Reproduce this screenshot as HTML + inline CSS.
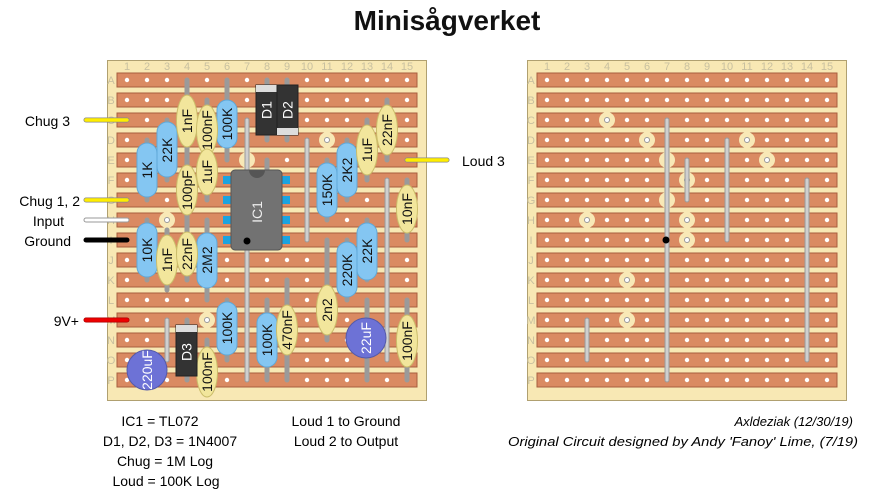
<!DOCTYPE html>
<html><head><meta charset="utf-8"><style>
html,body{margin:0;padding:0;background:#fff;}
svg{display:block;font-family:"Liberation Sans",sans-serif;}
.num{font-size:11px;fill:#c8c0a0;text-anchor:middle;}
.lab{font-size:14px;fill:#000;}
.cl{font-size:14px;fill:#111;text-anchor:middle;dominant-baseline:central;}
.lead{stroke:#9a9a9a;stroke-width:5;stroke-linecap:round;}
.leadi{stroke:#cfcfcf;stroke-width:3;stroke-linecap:round;}
.res{fill:#84c6f2;stroke:#5fa8d8;stroke-width:1;}
.cap{fill:#f2e69c;stroke:#cbbd6a;stroke-width:1;}
.cut{fill:#f8e8b6;}
.strip{fill:#da8a62;stroke:#a85e3e;stroke-width:1;}
</style></head><body>
<svg width="878" height="499" viewBox="0 0 878 499" xmlns="http://www.w3.org/2000/svg">
<defs>
<pattern id="holes" x="117" y="70" width="20" height="20" patternUnits="userSpaceOnUse">
<circle cx="10" cy="10" r="2.2" fill="#fff"/>
</pattern>
</defs>
<text x="447" y="30" font-size="28" text-anchor="middle" font-weight="bold" fill="#111">Minisågverket</text>

<!-- LEFT BOARD -->
<rect x="107.5" y="60.5" width="319" height="340" fill="#f8e8b4" stroke="#b0a070"/>
<g>
<rect class="strip" x="117" y="73" width="300" height="14"/><rect class="strip" x="117" y="93" width="300" height="14"/>
<rect class="strip" x="117" y="113" width="300" height="14"/><rect class="strip" x="117" y="133" width="300" height="14"/>
<rect class="strip" x="117" y="153" width="300" height="14"/><rect class="strip" x="117" y="173" width="300" height="14"/>
<rect class="strip" x="117" y="193" width="300" height="14"/><rect class="strip" x="117" y="213" width="300" height="14"/>
<rect class="strip" x="117" y="233" width="300" height="14"/><rect class="strip" x="117" y="253" width="300" height="14"/>
<rect class="strip" x="117" y="273" width="300" height="14"/><rect class="strip" x="117" y="293" width="300" height="14"/>
<rect class="strip" x="117" y="313" width="300" height="14"/><rect class="strip" x="117" y="333" width="300" height="14"/>
<rect class="strip" x="117" y="353" width="300" height="14"/><rect class="strip" x="117" y="373" width="300" height="14"/>
</g>
<rect x="117" y="70" width="300" height="320" fill="url(#holes)"/>
<g class="num">
<text x="127" y="70">1</text><text x="147" y="70">2</text><text x="167" y="70">3</text><text x="187" y="70">4</text><text x="207" y="70">5</text><text x="227" y="70">6</text><text x="247" y="70">7</text><text x="267" y="70">8</text><text x="287" y="70">9</text><text x="307" y="70">10</text><text x="327" y="70">11</text><text x="347" y="70">12</text><text x="367" y="70">13</text><text x="387" y="70">14</text><text x="407" y="70">15</text>
<text x="111" y="84">A</text><text x="111" y="104">B</text><text x="111" y="124">C</text><text x="111" y="144">D</text><text x="111" y="164">E</text><text x="111" y="184">F</text><text x="111" y="204">G</text><text x="111" y="224">H</text><text x="111" y="244">I</text><text x="111" y="264">J</text><text x="111" y="284">K</text><text x="111" y="304">L</text><text x="111" y="324">M</text><text x="111" y="344">N</text><text x="111" y="364">O</text><text x="111" y="384">P</text>
</g>
<!-- cuts left -->
<g>
<circle class="cut" cx="187" cy="120" r="8"/><circle class="cut" cx="227" cy="140" r="8"/><circle class="cut" cx="327" cy="140" r="8"/>
<circle class="cut" cx="247" cy="160" r="8"/><circle class="cut" cx="347" cy="160" r="8"/><circle class="cut" cx="267" cy="180" r="8"/>
<circle class="cut" cx="247" cy="200" r="8"/><circle class="cut" cx="167" cy="220" r="8"/><circle class="cut" cx="267" cy="220" r="8"/>
<circle class="cut" cx="267" cy="240" r="8"/><circle class="cut" cx="207" cy="280" r="8"/><circle class="cut" cx="207" cy="320" r="8"/>
</g>
<g fill="#fff" stroke="#999" stroke-width="1">
<circle cx="327" cy="140" r="2.5"/><circle cx="167" cy="220" r="2.5"/><circle cx="207" cy="320" r="2.5"/>
</g>
<!-- links & leads left -->
<g>
<line class="lead" x1="247" y1="120" x2="247" y2="380"/><line class="leadi" x1="247" y1="120" x2="247" y2="380"/>
<line class="lead" x1="307" y1="140" x2="307" y2="240"/><line class="leadi" x1="307" y1="140" x2="307" y2="240"/>
<line class="lead" x1="387" y1="180" x2="387" y2="360"/><line class="leadi" x1="387" y1="180" x2="387" y2="360"/>
<line class="lead" x1="167" y1="320" x2="167" y2="360"/><line class="leadi" x1="167" y1="320" x2="167" y2="360"/>
<line class="lead" x1="187" y1="80" x2="187" y2="160"/>
<line class="lead" x1="207" y1="100" x2="207" y2="200"/>
<line class="lead" x1="227" y1="80" x2="227" y2="160"/>
<line class="lead" x1="167" y1="120" x2="167" y2="180"/>
<line class="lead" x1="147" y1="140" x2="147" y2="200"/>
<line class="lead" x1="187" y1="160" x2="187" y2="220"/>
<line class="lead" x1="267" y1="80" x2="267" y2="140"/>
<line class="lead" x1="287" y1="80" x2="287" y2="140"/>
<line class="lead" x1="267" y1="160" x2="267" y2="180"/>
<line class="lead" x1="327" y1="160" x2="327" y2="220"/>
<line class="lead" x1="347" y1="140" x2="347" y2="200"/>
<line class="lead" x1="367" y1="120" x2="367" y2="180"/>
<line class="lead" x1="387" y1="100" x2="387" y2="160"/>
<line class="lead" x1="407" y1="180" x2="407" y2="240"/>
<line class="lead" x1="147" y1="220" x2="147" y2="280"/>
<line class="lead" x1="167" y1="230" x2="167" y2="290"/>
<line class="lead" x1="187" y1="220" x2="187" y2="280"/>
<line class="lead" x1="207" y1="220" x2="207" y2="300"/>
<line class="lead" x1="227" y1="300" x2="227" y2="360"/>
<line class="lead" x1="267" y1="300" x2="267" y2="380"/>
<line class="lead" x1="287" y1="280" x2="287" y2="380"/>
<line class="lead" x1="327" y1="240" x2="327" y2="340"/>
<line class="lead" x1="347" y1="240" x2="347" y2="300"/>
<line class="lead" x1="367" y1="220" x2="367" y2="280"/>
<line class="lead" x1="367" y1="300" x2="367" y2="380"/>
<line class="lead" x1="407" y1="300" x2="407" y2="380"/>
<line class="lead" x1="187" y1="320" x2="187" y2="380"/>
<line class="lead" x1="207" y1="340" x2="207" y2="380"/>
</g>
<!-- diodes D1 D2 -->
<rect x="256" y="85" width="21" height="50" fill="#333" stroke="#222"/>
<rect x="256" y="85" width="21" height="7" fill="#ddd"/>
<rect x="277" y="85" width="21" height="50" fill="#333" stroke="#222"/>
<rect x="277" y="128" width="21" height="7" fill="#ddd"/>
<text class="cl" transform="translate(266.5,110) rotate(-90)" fill="#fff" style="fill:#fff">D1</text>
<text class="cl" transform="translate(287.5,110) rotate(-90)" style="fill:#fff">D2</text>
<!-- IC -->
<g fill="#1aa3e0">
<rect x="223" y="176" width="8" height="8"/><rect x="223" y="196" width="8" height="8"/><rect x="223" y="216" width="8" height="8"/><rect x="223" y="236" width="8" height="8"/>
<rect x="282" y="176" width="8" height="8"/><rect x="282" y="196" width="8" height="8"/><rect x="282" y="216" width="8" height="8"/><rect x="282" y="236" width="8" height="8"/>
</g>
<rect x="231" y="170" width="51" height="80" rx="4" fill="#727272" stroke="#555"/>
<path d="M249 170 A8 8 0 0 0 265 170 Z" fill="#555"/>
<circle cx="247" cy="241" r="3.5" fill="#000"/>
<text class="cl" transform="translate(257,212) rotate(-90)" style="fill:#eee">IC1</text>
<!-- resistors -->
<g>
<rect class="res" x="217" y="100" width="20" height="48" rx="10"/>
<rect class="res" x="157" y="122" width="20" height="55" rx="10"/>
<rect class="res" x="137" y="143" width="20" height="54" rx="10"/>
<rect class="res" x="317" y="163" width="20" height="54" rx="10"/>
<rect class="res" x="337" y="143" width="20" height="54" rx="10"/>
<rect class="res" x="137" y="223" width="20" height="54" rx="10"/>
<rect class="res" x="197" y="233" width="20" height="55" rx="10"/>
<rect class="res" x="217" y="302" width="20" height="53" rx="10"/>
<rect class="res" x="257" y="313" width="20" height="54" rx="10"/>
<rect class="res" x="337" y="242" width="20" height="55" rx="10"/>
<rect class="res" x="357" y="223" width="20" height="57" rx="10"/>
</g>
<!-- caps -->
<g>
<ellipse class="cap" cx="187" cy="121" rx="10.5" ry="26"/>
<ellipse class="cap" cx="207" cy="130" rx="10.5" ry="25"/>
<ellipse class="cap" cx="207" cy="172" rx="10.5" ry="23"/>
<ellipse class="cap" cx="187" cy="190" rx="10.5" ry="25"/>
<ellipse class="cap" cx="367" cy="150" rx="10.5" ry="25"/>
<ellipse class="cap" cx="387" cy="130" rx="10.5" ry="25"/>
<ellipse class="cap" cx="407" cy="209" rx="10.5" ry="24"/>
<ellipse class="cap" cx="167" cy="260" rx="10.5" ry="25"/>
<ellipse class="cap" cx="187" cy="254" rx="10.5" ry="22"/>
<ellipse class="cap" cx="287" cy="330" rx="10.5" ry="25"/>
<ellipse class="cap" cx="327" cy="310" rx="10.5" ry="25"/>
<ellipse class="cap" cx="407" cy="341" rx="10.5" ry="26"/>
<ellipse class="cap" cx="207" cy="372" rx="10.5" ry="25"/>
</g>
<!-- D3 -->
<rect x="176" y="325" width="21" height="51" fill="#333" stroke="#222"/>
<rect x="176" y="325" width="21" height="7" fill="#ddd"/>
<text class="cl" transform="translate(186.5,352) rotate(-90)" style="fill:#fff">D3</text>
<!-- electrolytics -->
<circle cx="366" cy="338" r="20" fill="#6d72d6" stroke="#555aa8"/>
<circle cx="147" cy="370" r="20" fill="#6d72d6" stroke="#555aa8"/>
<!-- labels -->
<g class="cl">
<text transform="translate(187,121) rotate(-90)">1nF</text>
<text transform="translate(207,130) rotate(-90)">100nF</text>
<text transform="translate(207,172) rotate(-90)">1uF</text>
<text transform="translate(227,124) rotate(-90)">100K</text>
<text transform="translate(167,150) rotate(-90)">22K</text>
<text transform="translate(147,170) rotate(-90)">1K</text>
<text transform="translate(187,190) rotate(-90)">100pF</text>
<text transform="translate(327,190) rotate(-90)">150K</text>
<text transform="translate(347,170) rotate(-90)">2K2</text>
<text transform="translate(367,150) rotate(-90)">1uF</text>
<text transform="translate(387,130) rotate(-90)">22nF</text>
<text transform="translate(407,209) rotate(-90)">10nF</text>
<text transform="translate(147,250) rotate(-90)">10K</text>
<text transform="translate(167,260) rotate(-90)">1nF</text>
<text transform="translate(187,254) rotate(-90)">22nF</text>
<text transform="translate(207,260) rotate(-90)">2M2</text>
<text transform="translate(227,328) rotate(-90)">100K</text>
<text transform="translate(267,340) rotate(-90)">100K</text>
<text transform="translate(287,330) rotate(-90)">470nF</text>
<text transform="translate(327,310) rotate(-90)">2n2</text>
<text transform="translate(347,270) rotate(-90)">220K</text>
<text transform="translate(367,251) rotate(-90)">22K</text>
<text transform="translate(407,341) rotate(-90)">100nF</text>
<text transform="translate(207,372) rotate(-90)">100nF</text>
<text transform="translate(366,338) rotate(-90)" style="fill:#fff">22uF</text>
<text transform="translate(147,370) rotate(-90)" style="fill:#fff">220uF</text>
</g>
<!-- off-board wires -->
<g stroke-linecap="round">
<line x1="86" y1="120" x2="127" y2="120" stroke="#888" stroke-width="5"/><line x1="86" y1="120" x2="127" y2="120" stroke="#ffee00" stroke-width="3.5"/>
<line x1="86" y1="200" x2="127" y2="200" stroke="#888" stroke-width="5"/><line x1="86" y1="200" x2="127" y2="200" stroke="#ffee00" stroke-width="3.5"/>
<line x1="86" y1="220" x2="127" y2="220" stroke="#999" stroke-width="5"/><line x1="86" y1="220" x2="127" y2="220" stroke="#fff" stroke-width="3"/>
<line x1="86" y1="240" x2="127" y2="240" stroke="#000" stroke-width="5"/>
<line x1="86" y1="320" x2="127" y2="320" stroke="#a00" stroke-width="5"/><line x1="86" y1="320" x2="127" y2="320" stroke="#e00" stroke-width="3.5"/>
<line x1="407" y1="160" x2="447" y2="160" stroke="#888" stroke-width="5"/><line x1="407" y1="160" x2="447" y2="160" stroke="#ffee00" stroke-width="3.5"/>
</g>
<g class="lab">
<text x="70" y="126" text-anchor="end">Chug 3</text>
<text x="80" y="206" text-anchor="end">Chug 1, 2</text>
<text x="64" y="226" text-anchor="end">Input</text>
<text x="71" y="246" text-anchor="end">Ground</text>
<text x="79" y="326" text-anchor="end">9V+</text>
<text x="462" y="166">Loud 3</text>
</g>

<!-- RIGHT BOARD -->
<rect x="527.5" y="60.5" width="319" height="340" fill="#f8e8b4" stroke="#b0a070"/>
<g>
<rect class="strip" x="537" y="73" width="300" height="14"/><rect class="strip" x="537" y="93" width="300" height="14"/>
<rect class="strip" x="537" y="113" width="300" height="14"/><rect class="strip" x="537" y="133" width="300" height="14"/>
<rect class="strip" x="537" y="153" width="300" height="14"/><rect class="strip" x="537" y="173" width="300" height="14"/>
<rect class="strip" x="537" y="193" width="300" height="14"/><rect class="strip" x="537" y="213" width="300" height="14"/>
<rect class="strip" x="537" y="233" width="300" height="14"/><rect class="strip" x="537" y="253" width="300" height="14"/>
<rect class="strip" x="537" y="273" width="300" height="14"/><rect class="strip" x="537" y="293" width="300" height="14"/>
<rect class="strip" x="537" y="313" width="300" height="14"/><rect class="strip" x="537" y="333" width="300" height="14"/>
<rect class="strip" x="537" y="353" width="300" height="14"/><rect class="strip" x="537" y="373" width="300" height="14"/>
</g>
<rect x="537" y="70" width="300" height="320" fill="url(#holes)"/>
<g class="num">
<text x="547" y="70">1</text><text x="567" y="70">2</text><text x="587" y="70">3</text><text x="607" y="70">4</text><text x="627" y="70">5</text><text x="647" y="70">6</text><text x="667" y="70">7</text><text x="687" y="70">8</text><text x="707" y="70">9</text><text x="727" y="70">10</text><text x="747" y="70">11</text><text x="767" y="70">12</text><text x="787" y="70">13</text><text x="807" y="70">14</text><text x="827" y="70">15</text>
<text x="531" y="84">A</text><text x="531" y="104">B</text><text x="531" y="124">C</text><text x="531" y="144">D</text><text x="531" y="164">E</text><text x="531" y="184">F</text><text x="531" y="204">G</text><text x="531" y="224">H</text><text x="531" y="244">I</text><text x="531" y="264">J</text><text x="531" y="284">K</text><text x="531" y="304">L</text><text x="531" y="324">M</text><text x="531" y="344">N</text><text x="531" y="364">O</text><text x="531" y="384">P</text>
</g>
<g>
<circle class="cut" cx="607" cy="120" r="8"/><circle class="cut" cx="647" cy="140" r="8"/><circle class="cut" cx="747" cy="140" r="8"/>
<circle class="cut" cx="667" cy="160" r="8"/><circle class="cut" cx="767" cy="160" r="8"/><circle class="cut" cx="687" cy="180" r="8"/>
<circle class="cut" cx="667" cy="200" r="8"/><circle class="cut" cx="587" cy="220" r="8"/><circle class="cut" cx="687" cy="220" r="8"/>
<circle class="cut" cx="687" cy="240" r="8"/><circle class="cut" cx="627" cy="280" r="8"/><circle class="cut" cx="627" cy="320" r="8"/>
</g>
<g fill="#fff" stroke="#999" stroke-width="1">
<circle cx="607" cy="120" r="2.5"/><circle cx="647" cy="140" r="2.5"/><circle cx="747" cy="140" r="2.5"/><circle cx="767" cy="160" r="2.5"/>
<circle cx="687" cy="180" r="2.5"/><circle cx="587" cy="220" r="2.5"/><circle cx="687" cy="220" r="2.5"/><circle cx="687" cy="240" r="2.5"/>
<circle cx="627" cy="280" r="2.5"/><circle cx="627" cy="320" r="2.5"/>
</g>
<g>
<line class="lead" x1="667" y1="120" x2="667" y2="380"/><line class="leadi" x1="667" y1="120" x2="667" y2="380"/>
<line class="lead" x1="687" y1="160" x2="687" y2="200"/><line class="leadi" x1="687" y1="160" x2="687" y2="200"/>
<line class="lead" x1="727" y1="140" x2="727" y2="240"/><line class="leadi" x1="727" y1="140" x2="727" y2="240"/>
<line class="lead" x1="807" y1="180" x2="807" y2="360"/><line class="leadi" x1="807" y1="180" x2="807" y2="360"/>
<line class="lead" x1="587" y1="320" x2="587" y2="360"/><line class="leadi" x1="587" y1="320" x2="587" y2="360"/>
</g>
<circle cx="666" cy="240" r="3.5" fill="#000"/>

<!-- bottom text -->
<line x1="107" y1="400.5" x2="427" y2="400.5" stroke="#b0a070"/>
<g font-size="14" fill="#000" text-anchor="middle">
<text x="160" y="426">IC1 = TL072</text>
<text x="170" y="446">D1, D2, D3 = 1N4007</text>
<text x="165" y="466">Chug = 1M Log</text>
<text x="166" y="486">Loud = 100K Log</text>
<text x="346" y="426">Loud 1 to Ground</text>
<text x="346" y="446">Loud 2 to Output</text>
</g>
<g font-size="13" fill="#000" font-style="italic" text-anchor="end">
<text x="853" y="426">Axldeziak (12/30/19)</text>
<text x="858" y="446" textLength="350" lengthAdjust="spacingAndGlyphs">Original Circuit designed by Andy 'Fanoy' Lime, (7/19)</text>
</g>
</svg>
</body></html>
